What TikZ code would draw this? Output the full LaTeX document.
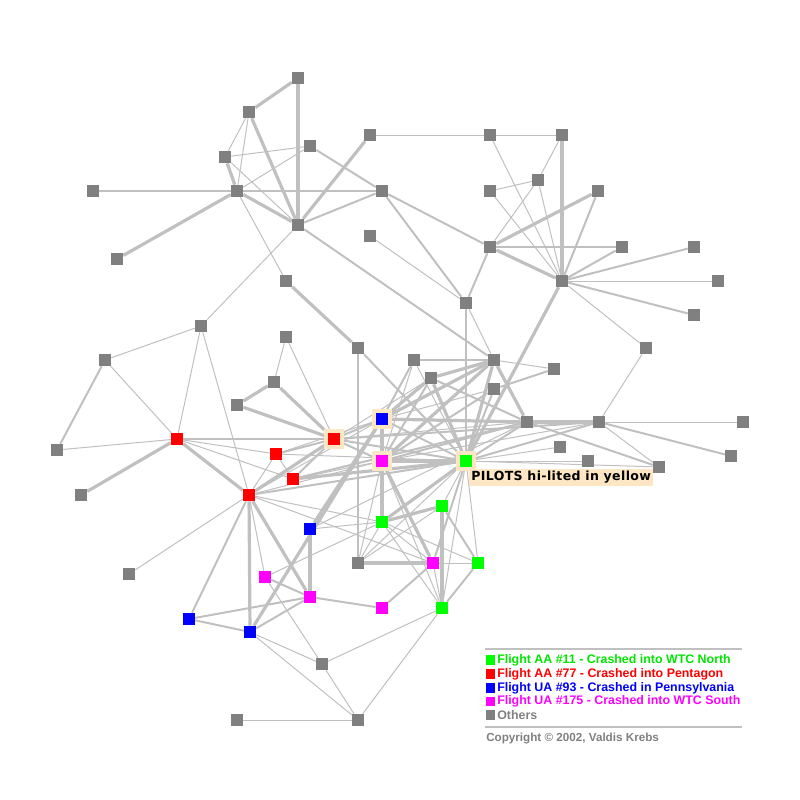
\documentclass[tikz,border=0pt]{standalone}
\usepackage{fontspec}
\setmainfont{Liberation Sans}
\newfontfamily\pilotfont[LetterSpace=3]{DejaVu Sans}
\usetikzlibrary{backgrounds}
\definecolor{ngray}{HTML}{808080}
\definecolor{egray}{HTML}{C0C0C0}
\definecolor{peach}{HTML}{FCE6C4}
\definecolor{nred}{HTML}{FF0000}
\definecolor{nblue}{HTML}{0000FF}
\definecolor{ngreen}{HTML}{00FF00}
\definecolor{nmag}{HTML}{FF00FF}
\definecolor{tgreen}{HTML}{00E600}
\tikzset{
  nd/.style={rectangle, inner sep=0pt, minimum size=9pt},
  gn/.style={nd, fill=ngray},
  rn/.style={nd, fill=nred},
  bn/.style={nd, fill=nblue},
  grn/.style={nd, fill=ngreen},
  mn/.style={nd, fill=nmag},
  pilot/.style={draw=peach, line width=2.7pt, minimum size=11.7pt},
  ea/.style={draw=egray, line width=0.75pt},
  eb/.style={draw=egray, line width=1.5pt},
  ec/.style={draw=egray, line width=2.4pt},
  lsq/.style={rectangle, inner sep=0pt, minimum size=6.8pt},
  ltx/.style={anchor=west, inner sep=0pt, font=\bfseries\fontsize{9.3}{10}\selectfont},
  legline/.style={draw=egray, line width=1.5pt}
}
\begin{document}
\begin{tikzpicture}[x=0.75pt,y=-0.75pt]
\useasboundingbox (0,0) rectangle (800,800);
% nodes
\node[gn] (n1) at (298,78) {};
\node[gn] (n2) at (249,112) {};
\node[gn] (n3) at (225,157) {};
\node[gn] (n4) at (310,146) {};
\node[gn] (n5) at (93,191) {};
\node[gn] (n6) at (237,191) {};
\node[gn] (n7) at (382,191) {};
\node[gn] (n8) at (298,225) {};
\node[gn] (n9) at (117,259) {};
\node[gn] (n10) at (370,135) {};
\node[gn] (n11) at (490,135) {};
\node[gn] (n12) at (562,135) {};
\node[gn] (n13) at (538,180) {};
\node[gn] (n14) at (490,191) {};
\node[gn] (n15) at (598,191) {};
\node[gn] (n16) at (370,236) {};
\node[gn] (n17) at (490,247) {};
\node[gn] (n18) at (622,247) {};
\node[gn] (n19) at (694,247) {};
\node[gn] (n20) at (562,281) {};
\node[gn] (n21) at (718,281) {};
\node[gn] (n22) at (694,315) {};
\node[gn] (n23) at (466,303) {};
\node[gn] (n24) at (286,281) {};
\node[gn] (n25) at (646,348) {};
\node[gn] (n26) at (201,326) {};
\node[gn] (n27) at (105,360) {};
\node[gn] (n28) at (286,337) {};
\node[gn] (n29) at (358,348) {};
\node[gn] (n30) at (274,382) {};
\node[gn] (n31) at (237,405) {};
\node[gn] (n32) at (57,450) {};
\node[gn] (n33) at (81,495) {};
\node[rn] (n34) at (177,439) {};
\node[rn,pilot] (n35) at (334,439) {};
\node[rn] (n36) at (276,454) {};
\node[rn] (n37) at (293,479) {};
\node[rn] (n38) at (249,495) {};
\node[gn] (n39) at (414,360) {};
\node[gn] (n40) at (494,360) {};
\node[gn] (n41) at (431,378) {};
\node[gn] (n42) at (554,369) {};
\node[gn] (n43) at (494,389) {};
\node[bn,pilot] (n44) at (382,419) {};
\node[gn] (n45) at (527,422) {};
\node[gn] (n46) at (599,422) {};
\node[gn] (n47) at (743,422) {};
\node[gn] (n48) at (560,447) {};
\node[gn] (n49) at (588,461) {};
\node[gn] (n50) at (659,467) {};
\node[gn] (n51) at (731,456) {};
\node[mn,pilot] (n52) at (382,461) {};
\node[grn,pilot] (n53) at (466,461) {};
\node[grn] (n54) at (442,506) {};
\node[grn] (n55) at (382,522) {};
\node[bn] (n56) at (310,529) {};
\node[gn] (n57) at (358,563) {};
\node[mn] (n58) at (433,563) {};
\node[grn] (n59) at (478,563) {};
\node[mn] (n60) at (265,577) {};
\node[mn] (n61) at (310,597) {};
\node[mn] (n62) at (382,608) {};
\node[grn] (n63) at (442,608) {};
\node[gn] (n64) at (129,574) {};
\node[bn] (n65) at (189,619) {};
\node[bn] (n66) at (250,632) {};
\node[gn] (n67) at (322,664) {};
\node[gn] (n68) at (237,720) {};
\node[gn] (n69) at (358,720) {};
% label
\node[anchor=north west, fill=peach, inner xsep=1.5pt, inner ysep=1.5pt, font=\pilotfont\bfseries\fontsize{9.4}{10}\selectfont] (plab) at (469,469) {PILOTS hi-lited in yellow};
% edges
\begin{pgfonlayer}{background}
% top-left
\foreach \a/\b in {n1/n2,n1/n8,n2/n8,n3/n6,n6/n8,n6/n9,n8/n10}{\draw[ec] (\a) -- (\b);}
\foreach \a/\b in {n4/n7,n5/n6,n6/n7,n7/n8,n8/n40}{\draw[eb] (\a) -- (\b);}
\foreach \a/\b in {n2/n3,n2/n6,n3/n4,n3/n8,n4/n6,n6/n24,n8/n26}{\draw[ea] (\a) -- (\b);}
% top-right
\foreach \a/\b in {n10/n11,n11/n12,n11/n20,n12/n13,n13/n14,n13/n17,n13/n20,n14/n20,n16/n23,n20/n21,n20/n25}{\draw[ea] (\a) -- (\b);}
\foreach \a/\b in {n15/n20,n17/n18,n17/n23,n7/n17,n7/n23,n18/n20,n19/n20,n20/n22}{\draw[eb] (\a) -- (\b);}
\foreach \a/\b in {n12/n20,n15/n17,n17/n20,n20/n53}{\draw[ec] (\a) -- (\b);}
% middle-left
\foreach \a/\b in {n24/n29,n30/n31,n30/n35,n31/n35,n33/n34,n34/n38,n35/n38}{\draw[ec] (\a) -- (\b);}
\foreach \a/\b in {n27/n32,n34/n35,n35/n36,n35/n37,n29/n57,n29/n53}{\draw[eb] (\a) -- (\b);}
\foreach \a/\b in {n26/n27,n26/n34,n26/n38,n27/n34,n28/n30,n28/n35,n32/n34,n34/n36,n34/n37,n36/n37,n36/n38}{\draw[ea] (\a) -- (\b);}
% center
\foreach \a/\b in {n37/n53,n41/n40,n41/n44,n41/n53,n40/n44,n40/n52,n40/n53,n40/n45,n44/n45,n44/n52,n52/n53,n45/n46}{\draw[ec] (\a) -- (\b);}
\foreach \a/\b in {n35/n44,n35/n52,n35/n53,n35/n46,n37/n45,n38/n53,n39/n40,n39/n44,n41/n52,n41/n45,n43/n42,n43/n53,n43/n52,n44/n53,n52/n45,n53/n45,n53/n46,n23/n53,n45/n50,n46/n51}{\draw[eb] (\a) -- (\b);}
\foreach \a/\b in {n35/n45,n35/n41,n37/n52,n38/n52,n38/n55,n38/n58,n38/n44,n36/n44,n36/n53,n39/n53,n39/n52,n40/n42,n23/n40,n43/n44,n52/n46,n53/n48,n53/n49,n53/n50,n46/n47,n46/n50,n46/n25}{\draw[ea] (\a) -- (\b);}
% bottom
\foreach \a/\b in {n38/n66,n38/n61,n56/n61,n56/n44,n66/n44,n57/n58,n55/n54,n55/n52,n55/n53,n54/n63,n52/n58}{\draw[ec] (\a) -- (\b);}
\foreach \a/\b in {n38/n65,n65/n61,n65/n66,n66/n61,n60/n61,n61/n62,n62/n58,n54/n59,n53/n58,n59/n63}{\draw[eb] (\a) -- (\b);}
\foreach \a/\b in {n38/n64,n38/n60,n66/n67,n66/n69,n60/n67,n60/n55,n58/n59,n57/n53,n57/n54,n57/n52,n57/n55,n54/n53,n53/n63,n53/n59,n52/n63,n58/n63,n63/n67,n63/n69,n67/n69,n68/n69,n55/n58,n55/n59,n55/n63,n56/n55,n56/n45}{\draw[ea] (\a) -- (\b);}
\end{pgfonlayer}
% legend
\coordinate (la) at (485,649);
\coordinate (lb) at (742,649);
\coordinate (lc) at (485,727);
\coordinate (ld) at (742,727);
\draw[legline] (la) -- (lb);
\draw[legline] (lc) -- (ld);
\node[lsq, fill=ngreen] (s1) at (490.5,660) {};
\node[lsq, fill=nred] (s2) at (490.5,674) {};
\node[lsq, fill=nblue] (s3) at (490.5,688) {};
\node[lsq, fill=nmag] (s4) at (490.5,701.5) {};
\node[lsq, fill=ngray] (s5) at (490.5,715) {};
\node[ltx, text=tgreen] (t1) at (497,660) {Flight AA \#11 - Crashed into WTC North};
\node[ltx, text=nred] (t2) at (497,674) {Flight AA \#77 - Crashed into Pentagon};
\node[ltx, text=nblue] (t3) at (497,688) {Flight UA \#93 - Crashed in Pennsylvania};
\node[ltx, text=nmag] (t4) at (497,701.5) {Flight UA \#175 - Crashed into WTC South};
\node[ltx, text=ngray] (t5) at (497,715) {Others};
\node[anchor=west, inner sep=0pt, font=\bfseries\fontsize{8.75}{10}\selectfont, text=ngray] (cp) at (486,738) {Copyright © 2002, Valdis Krebs};
\end{tikzpicture}
\end{document}
